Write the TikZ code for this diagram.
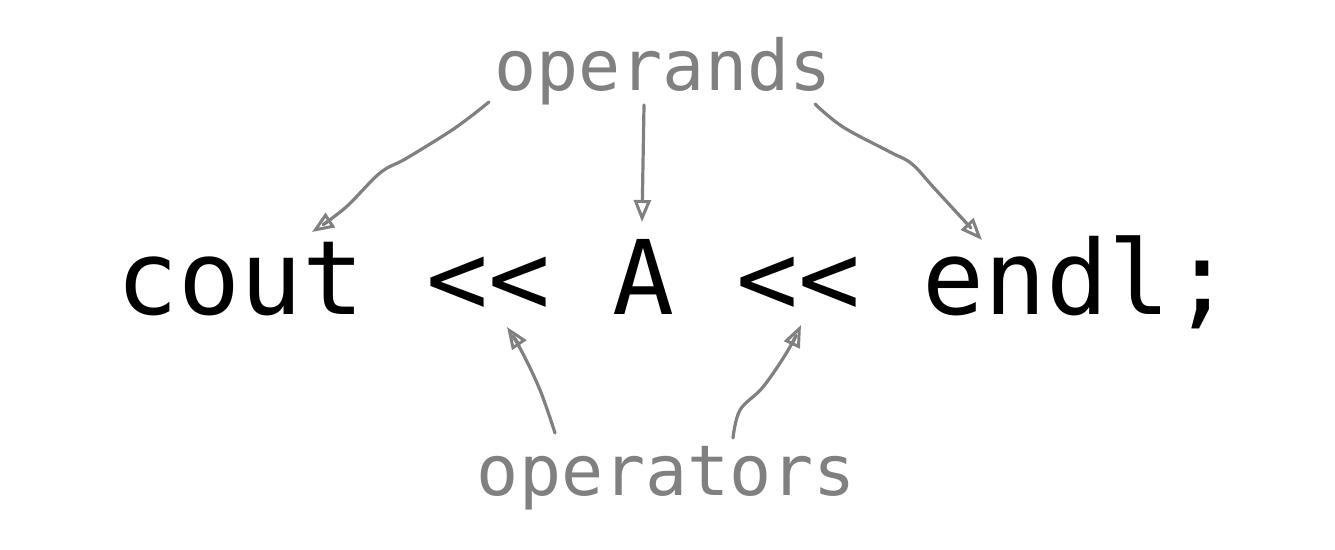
\documentclass[tikz,border=0pt]{standalone}
\usepackage{fontspec}
\setmonofont{DejaVu Sans Mono}
\usetikzlibrary{arrows.meta}
\definecolor{annot}{RGB}{128,128,128}
\tikzset{
  codetext/.style={font=\ttfamily\fontsize{103}{110}\selectfont, text=black, inner sep=0pt, anchor=base},
  notetext/.style={font=\ttfamily\fontsize{70}{80}\selectfont, text=annot, inner sep=0pt, anchor=base},
  sketcharrow/.style={draw=annot, line width=3.2pt, line cap=round, line join=round,
    -{Triangle[open, length=22pt, width=17pt, line width=3pt]}}
}
\begin{document}
\begin{tikzpicture}[x=1pt, y=-1pt]
\useasboundingbox (0,0) rectangle (1335,549);
\node[codetext] (code) at (675,314) {cout << A << endl;};
\node[notetext] (operands) at (663,90) {operands};
\node[notetext] (operators) at (666.5,495) {operators};
% arrow ends
\coordinate (s1) at (489,102);  \coordinate (t1) at (312,232);
\coordinate (s2) at (644,105);  \coordinate (t2) at (642,222);
\coordinate (s3) at (815,104);  \coordinate (t3) at (982,240);
\coordinate (s4) at (555,433);  \coordinate (t4) at (507,327);
\coordinate (s5) at (733,438);  \coordinate (t5) at (801,325);
\draw[sketcharrow] plot[smooth, tension=0.6] coordinates {(s1) (455,128) (407,158) (380,173) (345,208) (t1)};
\draw[sketcharrow] (s2) -- (t2);
\draw[sketcharrow] plot[smooth, tension=0.6] coordinates {(s3) (843,127) (890,152) (912,164) (935,189) (t3)};
\draw[sketcharrow] plot[smooth, tension=0.6] coordinates {(s4) (540,390) (521,350) (t4)};
\draw[sketcharrow] plot[smooth, tension=0.6] coordinates {(s5) (740,410) (763,387) (787,352) (t5)};
\end{tikzpicture}
\end{document}
